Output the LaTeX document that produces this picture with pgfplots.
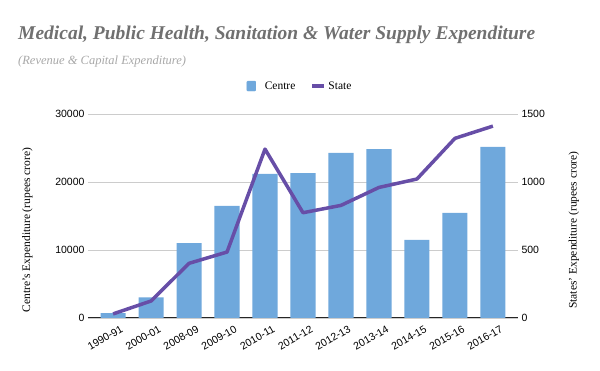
\documentclass[border=0pt]{standalone}
\usepackage{pgfplots}
\pgfplotsset{compat=1.18}
\usepackage{fontspec}
\setmainfont{Liberation Serif}
\newfontfamily\sansf{Liberation Sans}
\definecolor{barblue}{HTML}{6FA8DC}
\definecolor{linepurple}{HTML}{674EA7}
\definecolor{gridgray}{HTML}{CCCCCC}
\definecolor{titlegray}{HTML}{707070}
\definecolor{subgray}{HTML}{A8A8A8}
\pgfplotstableread{
x centre state
0 700 30
1 3050 125
2 11000 402
3 16500 485
4 21200 1242
5 21300 774
6 24300 828
7 24850 960
8 11500 1022
9 15450 1321
10 25150 1411
}\datatable
\begin{document}
\begin{tikzpicture}[x=1pt,y=1pt]
\path[use as bounding box] (-88,-53) rectangle (512,318);
\node[anchor=base west, font=\fontsize{19.5}{22}\selectfont\bfseries\itshape, text=titlegray, inner sep=0pt] at (-70,278) {Medical, Public Health, Sanitation \& Water Supply Expenditure};
\node[anchor=base west, font=\fontsize{12.5}{14}\selectfont\itshape, text=subgray, inner sep=0pt] at (-70,253) {(Revenue \& Capital Expenditure)};
\pgfplotsset{
  common/.style={
    width=430pt, height=204pt, scale only axis,
    at={(0,0)}, anchor=south west,
    xmin=-0.66, xmax=10.66, ymin=0,
    tick style={draw=none},
    scaled y ticks=false,
    /pgf/number format/set thousands separator={},
    /pgf/number format/assume math mode=true,
    yticklabel style={font=\sansf\fontsize{10.5}{12}\selectfont},
    ylabel style={font=\fontsize{11.5}{13}\selectfont},
  }
}
\begin{axis}[common,
  ymax=30000,
  axis x line*=bottom, axis y line*=left,
  y axis line style={draw=none},
  x axis line style={draw=black!85, line width=1pt},
  ymajorgrids, grid style={gridgray, line width=0.8pt},
  ytick={0,10000,20000,30000},
  xtick={0,...,10},
  xticklabels={1990-91,2000-01,2008-09,2009-10,2010-11,2011-12,2012-13,2013-14,2014-15,2015-16,2016-17},
  xticklabel style={rotate=30, anchor=north east, font=\sansf\fontsize{10.5}{12}\selectfont, xshift=6pt, yshift=-6pt},
  ylabel={Centre's Expenditure (rupees crore)},
  ylabel style={at={(axis description cs:-0.141,0.431)}, anchor=center},
]
\addplot[ybar, bar width=0.66, fill=barblue, draw=none] table[x=x, y=centre] {\datatable};
\end{axis}
\begin{axis}[common,
  ymax=1500,
  axis x line=none, axis y line*=right,
  y axis line style={draw=none},
  ytick={0,500,1000,1500},
  ylabel={States' Expenditure (rupees crore)},
  ylabel style={at={(axis description cs:1.130,0.431)}, anchor=center},
  legend columns=2,
  legend style={draw=none, fill=none, at={(axis description cs:0.493,1.137)}, anchor=center, font=\fontsize{11.5}{13}\selectfont, /tikz/every even column/.append style={column sep=13pt}},
]
\addlegendimage{legend image code/.code={\fill[barblue, rounded corners=1pt] (0pt,-5pt) rectangle (9pt,5pt); \path[draw=none, fill=none] (0pt,0pt) -- (16pt,0pt);}}
\addlegendentry{Centre}
\addplot[linepurple, line width=3.5pt, line join=round, legend image code/.code={\draw[linepurple, line width=4pt] (0pt,0pt) -- (12pt,0pt); \path[draw=none, fill=none] (0pt,0pt) -- (14pt,0pt);}] table[x=x, y=state] {\datatable};
\addlegendentry{State}
\end{axis}
\end{tikzpicture}
\end{document}
